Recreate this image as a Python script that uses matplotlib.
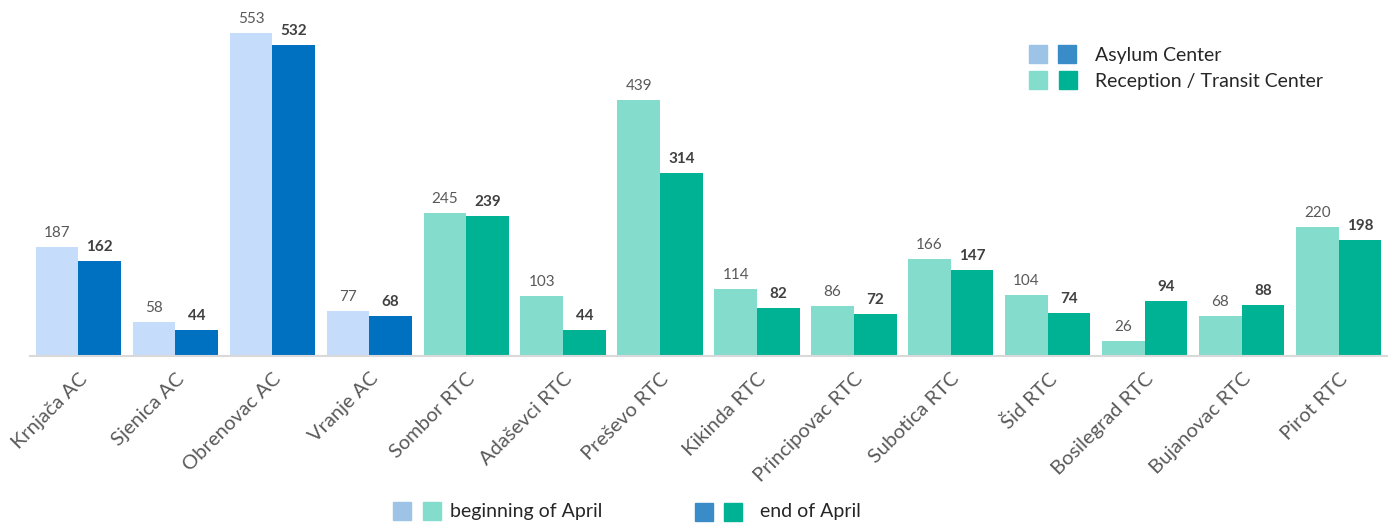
import numpy as np
import matplotlib.pyplot as plt
from matplotlib.patches import Rectangle

plt.rcParams["font.family"] = ["Lato", "DejaVu Sans"]

centers = ["Krnjača AC", "Sjenica AC", "Obrenovac AC", "Vranje AC", "Sombor RTC",
           "Adaševci RTC", "Preševo RTC", "Kikinda RTC", "Principovac RTC",
           "Subotica RTC", "Šid RTC", "Bosilegrad RTC", "Bujanovac RTC", "Pirot RTC"]
begin_april = [187, 58, 553, 77, 245, 103, 439, 114, 86, 166, 104, 26, 68, 220]
end_april = [162, 44, 532, 68, 239, 44, 314, 82, 72, 147, 74, 94, 88, 198]
is_asylum = [True, True, True, True] + [False] * 10

AC_LIGHT, AC_DARK = "#c5ddfb", "#0070c0"
RTC_LIGHT, RTC_DARK = "#84dccd", "#00b294"
LEG_AC_LIGHT, LEG_AC_DARK = "#9dc3e6", "#3a8cc8"

fig = plt.figure(figsize=(13.97, 5.26), dpi=100)
ax = fig.add_axes([30 / 1397, 170 / 526, 1357 / 1397, 350.5 / 526])

x = np.arange(len(centers))
w = 0.44
c_light = [AC_LIGHT if a else RTC_LIGHT for a in is_asylum]
c_dark = [AC_DARK if a else RTC_DARK for a in is_asylum]
ax.bar(x - w / 2, begin_april, w, color=c_light, zorder=2)
ax.bar(x + w / 2, end_april, w, color=c_dark, zorder=2)

for i in x:
    ax.text(i - w / 2, begin_april[i] + 12, str(begin_april[i]), ha="center", va="bottom",
            fontsize=11, color="#595959")
    ax.text(i + w / 2, end_april[i] + 12, str(end_april[i]), ha="center", va="bottom",
            fontsize=11, color="#404040", fontweight="bold")

ax.set_xlim(-0.5, len(centers) - 0.5)
ax.set_ylim(0, 600)
ax.set_yticks([])
for s in ["top", "right", "left"]:
    ax.spines[s].set_visible(False)
ax.spines["bottom"].set_color("#d9d9d9")
ax.spines["bottom"].set_linewidth(1.5)
ax.set_xticks(x)
ax.set_xticklabels(centers, rotation=45, ha="right", rotation_mode="anchor",
                   fontsize=14.5, color="#595959")
ax.tick_params(axis="x", length=0, pad=10)

# top legend (manual squares)
def square(px, py, color):
    fig.add_artist(Rectangle((px / 1397, 1 - (py + 9) / 526), 18 / 1397, 18 / 526,
                             color=color, transform=fig.transFigure))

square(1029, 54, LEG_AC_LIGHT)
square(1058, 54, LEG_AC_DARK)
square(1029, 80, RTC_LIGHT)
square(1059, 80, RTC_DARK)
fig.text(1095 / 1397, 1 - 55 / 526, "Asylum Center", fontsize=14, va="center", color="#262626")
fig.text(1095 / 1397, 1 - 81 / 526, "Reception / Transit Center", fontsize=14, va="center",
         color="#262626")

# bottom legend
square(393, 511, LEG_AC_LIGHT)
square(423, 511, RTC_LIGHT)
fig.text(450 / 1397, 1 - 511 / 526, "beginning of April", fontsize=14, va="center", color="#262626")
square(695, 512, LEG_AC_DARK)
square(724, 512, RTC_DARK)
fig.text(760 / 1397, 1 - 512 / 526, "end of April", fontsize=14, va="center", color="#262626")

fig.savefig("out.png", dpi=100)
